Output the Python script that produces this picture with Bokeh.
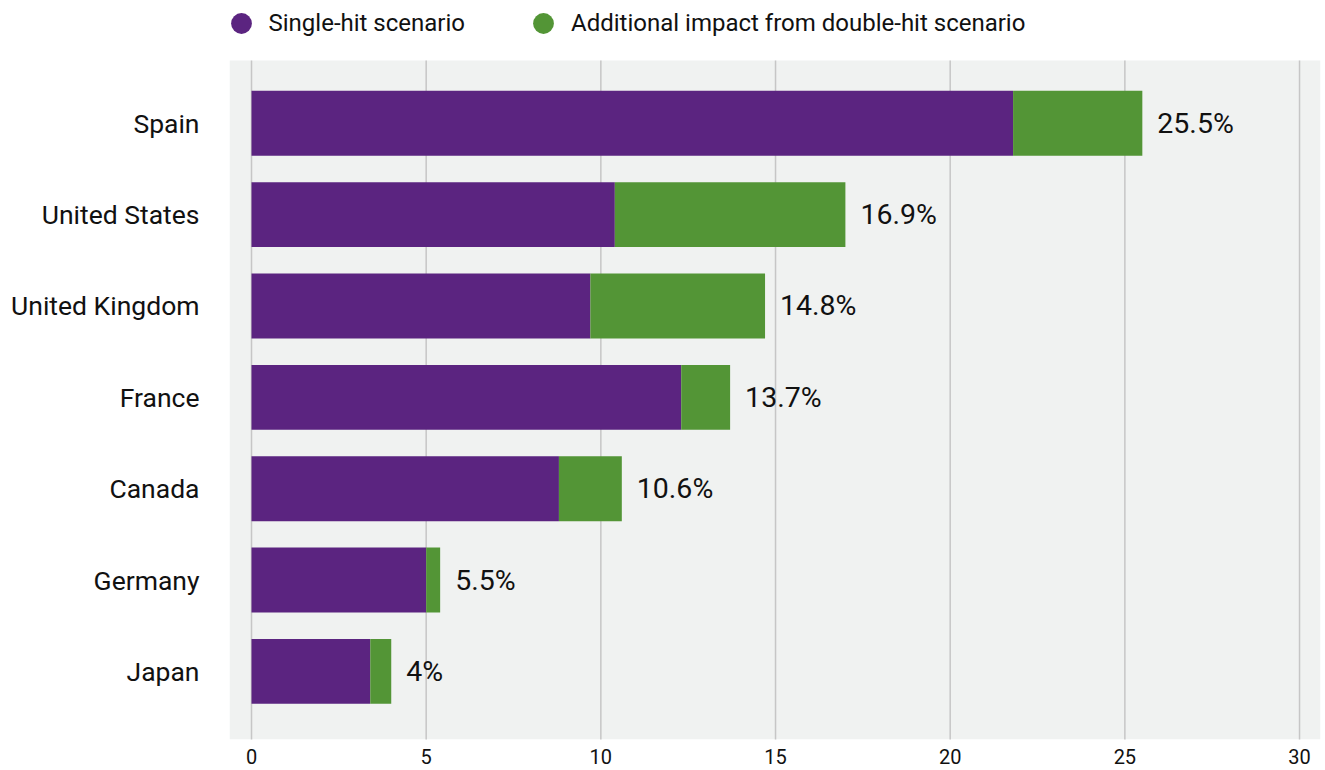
from bokeh.plotting import figure
from bokeh.models import Range1d, FixedTicker, Legend, LegendItem, ColumnDataSource, BoxAnnotation
from bokeh.core.properties import value
from bokeh.embed import file_html
from bokeh.resources import INLINE

countries = ["Spain", "United States", "United Kingdom", "France", "Canada", "Germany", "Japan"]
single_hit = [21.8, 10.4, 9.7, 12.3, 8.8, 5.0, 3.4]
additional = [3.7, 6.6, 5.0, 1.4, 1.8, 0.4, 0.6]
total_labels = ["25.5%", "16.9%", "14.8%", "13.7%", "10.6%", "5.5%", "4%"]
x_ticks = [0, 5, 10, 15, 20, 25, 30]
series_names = ["Single-hit scenario", "Additional impact from double-hit scenario"]

PURPLE = "#5b2480"
GREEN = "#539536"
PANEL = "#f0f2f1"
FONT = "Roboto"

ys = list(range(len(countries) - 1, -1, -1))
totals = [a + b for a, b in zip(single_hit, additional)]

Y_BOTTOM, PANEL_TOP, Y_TOP = -0.745, 6.685, 7.343

src = ColumnDataSource(dict(y=ys, single=single_hit, total=totals, label=total_labels))

p = figure(width=1325, height=770, output_backend="svg", toolbar_location=None,
           x_range=Range1d(-0.63, 30.6), y_range=Range1d(Y_BOTTOM, Y_TOP),
           min_border_left=229, min_border_right=5, min_border_top=0, min_border_bottom=31)

p.background_fill_color = "white"
p.border_fill_color = "white"
p.outline_line_color = None

# gray plotting panel (below the legend strip)
p.add_layout(BoxAnnotation(top=PANEL_TOP, fill_color=PANEL, fill_alpha=1.0,
                           line_color=None, level="underlay"))

# vertical grid lines at the x ticks, limited to the gray panel
p.segment(x0=x_ticks, x1=x_ticks, y0=[Y_BOTTOM - 1] * len(x_ticks), y1=[PANEL_TOP] * len(x_ticks),
          line_color="#c6c6c6", line_width=1.5)

p.hbar(y="y", left=0, right="single", height=0.71, source=src, fill_color=PURPLE, line_color=None)
p.hbar(y="y", left="single", right="total", height=0.71, source=src, fill_color=GREEN, line_color=None)
p.text(x="total", y="y", text="label", source=src, x_offset=15, text_baseline="middle",
       text_align="left", text_font=value(FONT), text_font_size="28.5px", text_color="#111111")

# legend markers (kept off-range; only their legend swatches show)
r1 = p.scatter(x=[-100], y=[-100], marker="circle", size=10, fill_color=PURPLE, line_color=None)
r2 = p.scatter(x=[-100], y=[-100], marker="circle", size=10, fill_color=GREEN, line_color=None)
legend = Legend(items=[LegendItem(label=series_names[0], renderers=[r1]),
                       LegendItem(label=series_names[1], renderers=[r2])],
                orientation="horizontal", location=(-14.5, 690),
                glyph_width=52, glyph_height=52, label_standoff=2, spacing=52,
                padding=0, margin=0, background_fill_alpha=0, border_line_alpha=0,
                label_text_font=FONT, label_text_font_size="24px", label_text_color="#111111",
                label_text_baseline="middle")
p.add_layout(legend)

# x axis
p.xaxis.ticker = FixedTicker(ticks=x_ticks)
p.xaxis.axis_line_color = None
p.xaxis.major_tick_line_color = None
p.xaxis.minor_tick_line_color = None
p.xaxis.major_tick_out = 0
p.xaxis.major_tick_in = 0
p.xaxis.major_label_standoff = 9
p.xaxis.major_label_text_font = FONT
p.xaxis.major_label_text_font_size = "20px"
p.xaxis.major_label_text_color = "#111111"

# y axis
p.yaxis.ticker = FixedTicker(ticks=ys)
p.yaxis.major_label_overrides = {y: c for y, c in zip(ys, countries)}
p.yaxis.axis_line_color = None
p.yaxis.major_tick_line_color = None
p.yaxis.minor_tick_line_color = None
p.yaxis.major_tick_out = 0
p.yaxis.major_tick_in = 0
p.yaxis.major_label_standoff = 30
p.yaxis.major_label_text_font = FONT
p.yaxis.major_label_text_font_size = "26.5px"
p.yaxis.major_label_text_color = "#111111"

p.xgrid.grid_line_color = None
p.ygrid.grid_line_color = None

open("out.html", "w").write(file_html(p, INLINE))
